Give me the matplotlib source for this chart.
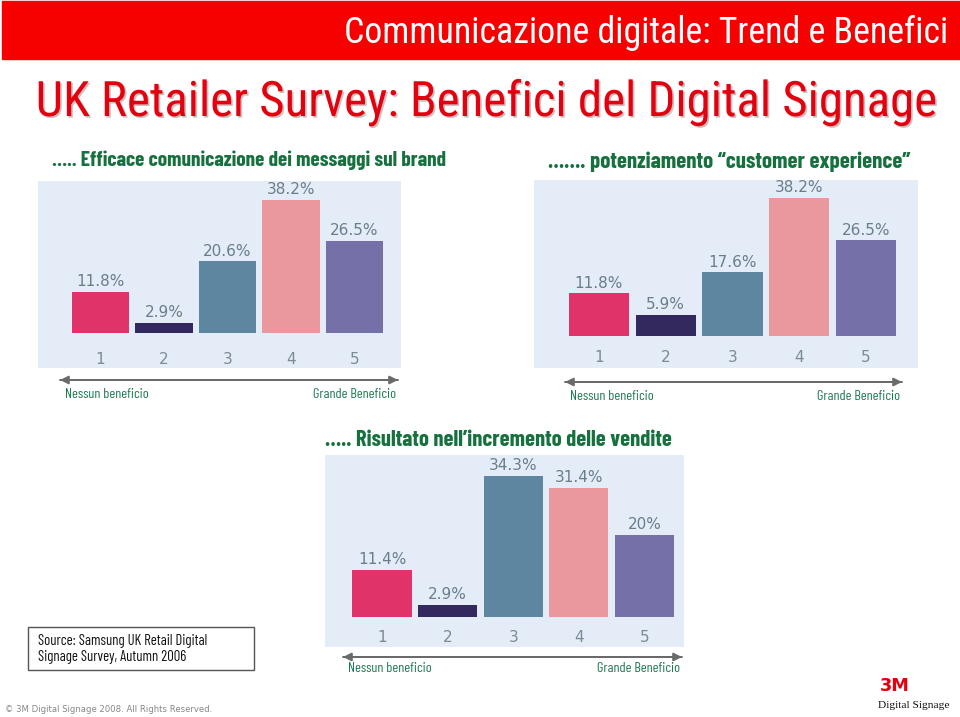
import matplotlib
matplotlib.use("Agg")
import matplotlib.pyplot as plt
from matplotlib.patches import Rectangle
import matplotlib.patheffects as pe

# DATA
scale_labels = ["1", "2", "3", "4", "5"]
brand_values = [11.8, 2.9, 20.6, 38.2, 26.5]
experience_values = [11.8, 5.9, 17.6, 38.2, 26.5]
sales_values = [11.4, 2.9, 34.3, 31.4, 20.0]
value_labels_brand = ["11.8%", "2.9%", "20.6%", "38.2%", "26.5%"]
value_labels_exp = ["11.8%", "5.9%", "17.6%", "38.2%", "26.5%"]
value_labels_sales = ["11.4%", "2.9%", "34.3%", "31.4%", "20%"]

bar_colors = ["#e0336a", "#33295e", "#5d87a0", "#e9999e", "#7670a9"]
panel_bg = "#e3ecf7"
green = "#17713f"
label_green = "#1f7a52"
value_grey = "#6a7d8c"
narrow = ["Roboto Condensed", "DejaVu Sans"]
narrower = ["Barlow Condensed", "Roboto Condensed", "DejaVu Sans"]
sans = ["DejaVu Sans"]

W, H = 960, 717
fig = plt.figure(figsize=(W / 100, H / 100), dpi=100)
fig.patch.set_facecolor("white")
renderer = fig.canvas.get_renderer()


def fit(t, width):
    # scale font so the text spans the measured width of the reference
    w = t.get_window_extent(renderer).width
    t.set_fontsize(t.get_fontsize() * width / w)
    return t


# overlay in pixel coords for slide decoration
ov = fig.add_axes([0, 0, 1, 1])
ov.set_xlim(0, W)
ov.set_ylim(H, 0)
ov.axis("off")

ov.add_patch(Rectangle((2, 1), 958, 58, color="#f70000", zorder=1))
fit(ov.text(948, 33, "Communicazione digitale: Trend e Benefici", color="white",
            fontsize=24, family=narrow, ha="right", va="center"), 605)
fit(ov.text(486, 103, "UK Retailer Survey: Benefici del Digital Signage", color="#e3000f",
            fontsize=34, family=narrow, ha="center", va="center",
            path_effects=[pe.SimplePatchShadow(offset=(1.2, -1.2), alpha=0.25), pe.Normal()]), 902)

fit(ov.text(52, 160, "….. Efficace comunicazione dei messaggi sul brand", color=green,
            fontsize=16, family=narrower, fontweight="bold", ha="left", va="center"), 398)
fit(ov.text(548, 162, "……. potenziamento \u201ccustomer experience\u201d", color=green,
            fontsize=16, family=narrower, fontweight="bold", ha="left", va="center"), 364)
fit(ov.text(325, 440, "….. Risultato nell\u2019incremento delle vendite", color=green,
            fontsize=16, family=narrower, fontweight="bold", ha="left", va="center"), 348)


def panel(rect, centers, baseline, pxscale, values, labels, tick_px, arrow, text_y):
    x0, y0, x1, y1 = rect
    ax = fig.add_axes([x0 / W, 1 - y1 / H, (x1 - x0) / W, (y1 - y0) / H])
    step = (centers[1] - centers[0])
    ax.set_xlim(1 - (centers[0] - x0) / step, 5 + (x1 - centers[1] - 3 * step) / step)
    ax.set_ylim(-(y1 - baseline) / pxscale, (baseline - y0) / pxscale)
    ax.set_facecolor(panel_bg)
    for s in ax.spines.values():
        s.set_visible(False)
    ax.set_xticks([])
    ax.set_yticks([])
    xs = list(range(1, 6))
    ax.bar(xs, values, width=0.9, color=bar_colors)
    for x, v, lab in zip(xs, values, labels):
        ax.annotate(lab, (x, v), xytext=(0, 2), textcoords="offset points",
                    ha="center", va="bottom", color=value_grey, fontsize=11, family=sans)
        ax.text(x, -(tick_px - baseline) / pxscale, scale_labels[x - 1], ha="center",
                va="center", color="#7b8a97", fontsize=11, family=sans)
    ax0, ax1, ay = arrow
    ov.annotate("", xy=(ax1, ay), xytext=(ax0, ay),
                arrowprops=dict(arrowstyle="-|>", color="#6a6a6a", lw=1.4,
                                mutation_scale=12, shrinkA=0, shrinkB=0))
    ov.annotate("", xy=(ax0, ay), xytext=(ax1, ay),
                arrowprops=dict(arrowstyle="-|>", color="#6a6a6a", lw=1.4,
                                mutation_scale=12, shrinkA=0, shrinkB=0))
    fit(ov.text(ax0 + 5, text_y, "Nessun beneficio", color=label_green, fontsize=10.5,
                family=narrower, ha="left", va="center"), 84)
    fit(ov.text(ax1 - 2, text_y, "Grande Beneficio", color=label_green, fontsize=10.5,
                family=narrower, ha="right", va="center"), 83)
    return ax


panel((38, 181, 401, 368), [100.5, 164], 333, 3.48, brand_values, value_labels_brand,
      360, (60, 398, 380), 394)
panel((534, 180, 918, 368), [599, 665.75], 336, 3.61, experience_values, value_labels_exp,
      358, (565, 902, 382), 397)
panel((325, 455, 684, 647), [382, 447.6], 617, 4.11, sales_values, value_labels_sales,
      637, (343, 682, 657), 669)

# source box
ov.add_patch(Rectangle((28, 627), 226, 43, fill=False, edgecolor="#555555", lw=1))
src = ov.text(38, 641, "Source: Samsung UK Retail Digital", fontsize=10, family=narrower,
              color="#111111", ha="left", va="center")
fit(src, 169)
ov.text(38, 657, "Signage Survey, Autumn 2006", fontsize=src.get_fontsize(), family=narrower,
        color="#111111", ha="left", va="center")

# footer
fit(ov.text(5, 710, "\u00a9 3M Digital Signage 2008. All Rights Reserved.", fontsize=7.5,
            family=sans, color="#888888", ha="left", va="center"), 207)
fit(ov.text(895, 686, "3M", fontsize=14, fontweight="heavy", family=sans, color="#e3000f",
            ha="center", va="center"), 30)
fit(ov.text(914, 706, "Digital Signage", fontsize=9, family=["Liberation Serif", "DejaVu Serif"],
            color="#111111", ha="center", va="center"), 72)

fig.savefig("out.png", dpi=100, facecolor="white")
